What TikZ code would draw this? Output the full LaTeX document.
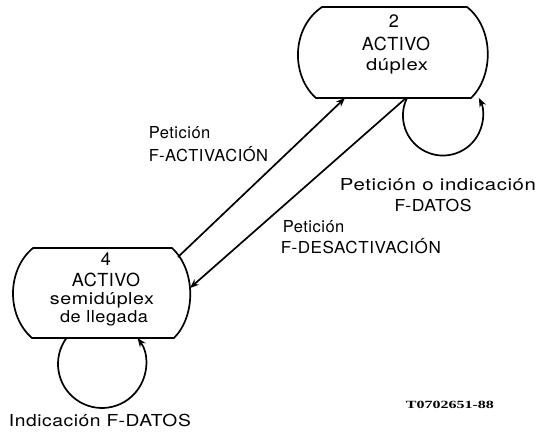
\documentclass[tikz,border=0pt]{standalone}
\usepackage{fontspec}
\setmainfont{TeX Gyre Heros}
\newfontfamily\lblfont[LetterSpace=3]{TeX Gyre Heros}
\newfontfamily\codefont{Liberation Serif}
\usetikzlibrary{arrows.meta}
\newcommand\fitto[2]{\resizebox{#1}{\height}{#2}}
\begin{document}
\begin{tikzpicture}[x=1pt,y=-1pt,
  line width=1.7pt,
  lbl/.style={inner sep=0pt, anchor=base, font=\lblfont\fontsize{16.5}{18}\selectfont},
  lblw/.style={lbl, anchor=base west},
  big/.style={inner sep=0pt, anchor=base, font=\lblfont\fontsize{18}{20}\selectfont},
  arr/.style={-{Stealth[length=9pt,width=7pt]}},
]
\useasboundingbox (0,0) rectangle (539,434);

% state 2 outline
\draw (322,7) -- (467,7) .. controls (494,28) and (494,76) .. (471,98)
  -- (316,98) .. controls (291,76) and (291,28) .. (322,7) -- cycle;
% state 4 outline
\draw (33,248) -- (172,248) .. controls (196,270) and (196,316) .. (174,338)
  -- (32,338) .. controls (6.5,316) and (6.5,270) .. (33,248) -- cycle;

% texts of state 2
\node[big] (s2n) at (394,27) {2};
\node[big] (s2a) at (396,50) {ACTIVO};
\node[lbl] (s2b) at (397,70) {\fitto{62pt}{dúplex}};
% texts of state 4
\node[big] (s4n) at (106,265) {4};
\node[big] (s4a) at (106,286) {ACTIVO};
\node[lbl] (s4b) at (102,304) {\fitto{104pt}{semidúplex}};
\node[lbl] (s4c) at (104,322) {\fitto{88pt}{de llegada}};

% attachment points
\coordinate (a1s) at (178,257);
\coordinate (a1e) at (345,98);
\coordinate (a2s) at (406,98);
\coordinate (a2e) at (190,288);
\coordinate (l2s) at (407,98);
\coordinate (l4s) at (66.5,338);

\draw[arr] (a1s) -- (a1e);
\draw[arr] (a2s) -- (a2e);
\draw[arr] (l2s) arc[start angle=154, end angle=386, radius=40pt];
\draw[arr] (l4s) arc[start angle=143.8, end angle=396.2, radius=44pt];

% labels
\node[lblw] (p1) at (148,138) {Petición};
\node[lblw] (p1b) at (148,161) {F-ACTIVACIÓN};
\node[lbl] (p2) at (438,190) {\fitto{196pt}{Petición o indicación}};
\node[lbl] (p2b) at (433,211) {\fitto{77pt}{F-DATOS}};
\node[lblw] (p3) at (282,232) {Petición};
\node[lblw] (p3b) at (280,253) {\fitto{160pt}{F-DESACTIVACIÓN}};
\node[lblw] (p4) at (8,426) {\fitto{182pt}{Indicación F-DATOS}};
\node[inner sep=0pt, anchor=base west, font=\codefont\bfseries\fontsize{11}{12}\selectfont] (code) at (405,408) {\fitto{88pt}{T0702651-88}};
\end{tikzpicture}
\end{document}
